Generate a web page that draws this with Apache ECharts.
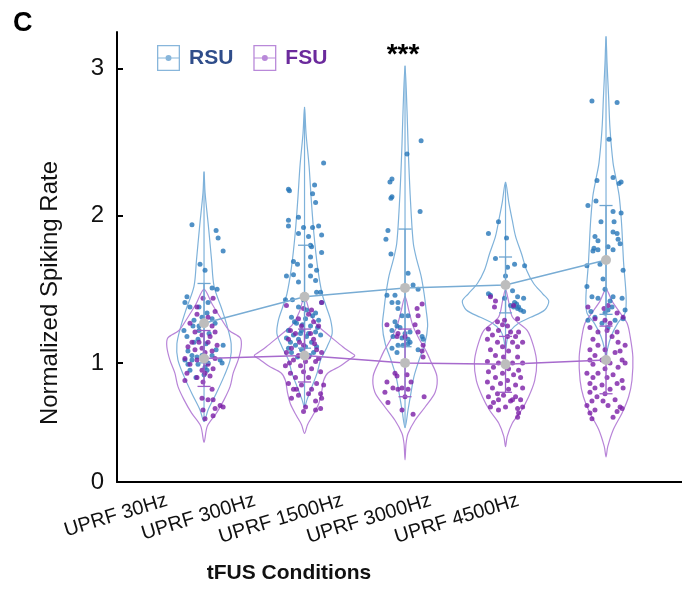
<!DOCTYPE html>
<html><head><meta charset="utf-8">
<script src="https://cdn.jsdelivr.net/npm/echarts@6/dist/echarts.min.js"></script>
<style>html,body{margin:0;padding:0;background:#fff}#main{width:682px;height:590px}</style>
</head><body><div id="main"></div>
<script>
const categories = ['UPRF 30Hz','UPRF 300Hz','UPRF 1500Hz','UPRF 3000Hz','UPRF 4500Hz'];
const yTickValues = [0.19, 1, 2, 3];
const yTickLabels = ['0', '1', '2', '3'];
const yMin = 0.19, yMax = 3.25;

const rsuMean = [1.27, 1.45, 1.51, 1.53, 1.70];
const rsuErr  = [0.27, 0.35, 0.40, 0.19, 0.37];
const fsuMean = [1.03, 1.05, 1.00, 0.99, 1.02];
const fsuErr  = [0.19, 0.18, 0.23, 0.19, 0.23];

// violin densities: [value, half-width in category units]
const rsuDensity1 = [[2.30,0],[2.16,0.01],[1.92,0.045],[1.70,0.075],[1.52,0.10],[1.36,0.18],[1.25,0.23],[1.13,0.27],[1.02,0.26],[0.91,0.20],[0.79,0.12],[0.68,0.04],[0.60,0]];
const rsuDensity2 = [[2.74,0],[2.56,0.015],[2.34,0.045],[2.11,0.067],[1.88,0.093],[1.65,0.13],[1.47,0.175],[1.38,0.217],[1.29,0.26],[1.20,0.275],[1.11,0.225],[1.02,0.16],[0.93,0.125],[0.84,0.075],[0.75,0.025],[0.70,0]];
const rsuDensity3 = [[3.02,0],[2.71,0.02],[2.49,0.03],[2.26,0.043],[2.03,0.06],[1.81,0.083],[1.70,0.117],[1.59,0.16],[1.47,0.19],[1.36,0.21],[1.25,0.225],[1.13,0.197],[1.02,0.14],[0.91,0.09],[0.80,0.06],[0.68,0.03],[0.56,0]];
const rsuDensity4 = [[2.23,0],[2.09,0.033],[1.97,0.067],[1.86,0.10],[1.74,0.16],[1.63,0.21],[1.54,0.28],[1.47,0.37],[1.42,0.43],[1.36,0.39],[1.31,0.25],[1.27,0.13],[1.22,0.05],[1.16,0.017],[1.09,0]];
const rsuDensity5 = [[3.22,0],[3.04,0.01],[2.82,0.025],[2.59,0.04],[2.36,0.07],[2.25,0.10],[2.14,0.13],[2.02,0.147],[1.91,0.158],[1.68,0.175],[1.45,0.20],[1.34,0.19],[1.27,0.117],[1.18,0.05],[1.09,0.013],[1.02,0]];

const fsuDensity1 = [[1.50,0],[1.40,0.08],[1.30,0.17],[1.22,0.25],[1.17,0.36],[1.11,0.37],[1.02,0.34],[0.93,0.29],[0.84,0.26],[0.75,0.20],[0.66,0.125],[0.57,0.033],[0.46,0]];
const fsuDensity2 = [[1.45,0],[1.35,0.05],[1.26,0.12],[1.20,0.22],[1.16,0.29],[1.11,0.38],[1.07,0.46],[1.05,0.50],[1.02,0.44],[0.98,0.36],[0.93,0.23],[0.88,0.19],[0.80,0.17],[0.72,0.14],[0.64,0.08],[0.58,0.03],[0.52,0]];
const fsuDensity3 = [[1.45,0],[1.35,0.04],[1.25,0.08],[1.15,0.15],[1.08,0.21],[1.02,0.25],[0.91,0.317],[0.80,0.30],[0.70,0.20],[0.61,0.10],[0.52,0.03],[0.45,0.01],[0.34,0]];
const fsuDensity4 = [[1.50,0],[1.42,0.03],[1.31,0.07],[1.22,0.217],[1.11,0.28],[1.00,0.31],[0.88,0.29],[0.77,0.23],[0.68,0.16],[0.59,0.067],[0.50,0.017],[0.43,0]];
const fsuDensity5 = [[1.50,0],[1.42,0.06],[1.34,0.14],[1.27,0.21],[1.18,0.24],[1.04,0.267],[0.88,0.258],[0.77,0.225],[0.66,0.16],[0.55,0.075],[0.43,0.017],[0.36,0]];

// individual units: [jitter, normalized rate]
const rsuPoints1 = [[-0.12,1.94],[0.12,1.90],[0.14,1.85],[0.19,1.76],[-0.04,1.67],[0.01,1.63],[0.08,1.51],[0.13,1.50],[-0.17,1.45],[-0.19,1.41],[-0.14,1.38],[-0.05,1.38],[0.04,1.41],[0.03,1.34],[-0.02,1.31],[-0.10,1.29],[0.08,1.30],[0.11,1.27],[-0.20,1.22],[-0.11,1.25],[-0.05,1.22],[0.05,1.20],[-0.17,1.18],[-0.06,1.16],[-0.10,1.14],[0.02,1.13],[-0.16,1.08],[0.19,1.12],[0.12,1.09],[-0.12,1.05],[-0.07,1.04],[0.16,1.02],[-0.19,1.02],[-0.12,1.02],[0.04,1.00],[-0.16,0.99],[-0.06,0.99],[0.01,0.97],[0.18,1.00],[0.08,1.05],[-0.02,1.05],[-0.14,0.95],[0.03,0.95],[-0.05,1.25],[0.00,0.92],[-0.08,0.90]];
const rsuPoints2 = [[0.19,2.36],[-0.16,2.18],[-0.15,2.17],[0.10,2.21],[0.08,2.15],[0.11,2.09],[-0.16,1.97],[-0.06,1.99],[-0.16,1.93],[-0.01,1.92],[0.08,1.92],[0.14,1.93],[-0.06,1.88],[0.04,1.86],[0.17,1.87],[0.06,1.80],[0.07,1.79],[0.06,1.72],[0.17,1.75],[-0.11,1.69],[-0.07,1.67],[0.06,1.66],[0.12,1.63],[-0.18,1.59],[-0.11,1.60],[0.06,1.59],[-0.06,1.55],[0.11,1.56],[0.12,1.48],[0.16,1.48],[-0.19,1.43],[-0.12,1.43],[0.17,1.41],[-0.01,1.43],[-0.06,1.38],[0.02,1.36],[0.11,1.34],[-0.13,1.31],[0.01,1.30],[0.14,1.29],[-0.08,1.27],[0.06,1.25],[-0.16,1.22],[-0.03,1.22],[0.11,1.21],[-0.11,1.19],[0.02,1.18],[0.16,1.19],[-0.18,1.17],[-0.06,1.16],[0.07,1.14],[-0.09,1.12],[0.01,1.11],[0.12,1.11],[-0.16,1.10],[-0.03,1.09],[-0.13,1.07],[0.09,1.07],[-0.04,1.20],[0.04,1.20],[-0.10,1.28],[0.08,1.32],[-0.02,1.26],[0.13,1.24],[-0.14,1.14],[0.05,1.05],[-0.07,1.04]];
const rsuPoints3 = [[0.16,2.51],[0.02,2.42],[-0.13,2.25],[-0.15,2.23],[-0.13,2.13],[-0.14,2.12],[0.15,2.03],[-0.17,1.90],[-0.19,1.84],[-0.14,1.74],[0.03,1.61],[0.08,1.53],[0.13,1.50],[-0.18,1.46],[-0.10,1.46],[-0.13,1.41],[-0.07,1.41],[-0.07,1.37],[-0.03,1.32],[0.03,1.32],[-0.10,1.28],[-0.08,1.25],[-0.05,1.24],[-0.13,1.22],[0.05,1.21],[0.00,1.20],[-0.03,1.17],[0.03,1.16],[0.05,1.14],[0.17,1.18],[0.18,1.16],[-0.12,1.18],[-0.07,1.12],[-0.02,1.12],[-0.13,1.10],[-0.08,1.07],[0.03,1.13],[0.13,1.09]];
const rsuPoints4 = [[-0.07,1.96],[-0.17,1.88],[0.01,1.85],[-0.10,1.71],[0.02,1.65],[0.09,1.67],[0.19,1.66],[0.00,1.59],[-0.17,1.47],[-0.15,1.46],[0.07,1.49],[-0.01,1.44],[0.12,1.45],[0.18,1.44],[0.05,1.39],[0.08,1.38],[0.12,1.37],[0.15,1.36],[0.18,1.35],[0.09,1.41],[0.11,1.40],[0.13,1.38]];
const rsuPoints5 = [[-0.14,2.78],[0.11,2.77],[0.03,2.52],[-0.09,2.24],[0.13,2.22],[0.15,2.23],[0.07,2.26],[-0.18,2.07],[-0.10,2.10],[0.07,2.03],[0.15,2.02],[-0.05,1.96],[0.08,1.96],[-0.11,1.86],[0.07,1.89],[0.11,1.88],[-0.08,1.83],[0.12,1.84],[-0.12,1.78],[-0.08,1.77],[-0.13,1.76],[0.02,1.79],[0.14,1.81],[0.07,1.77],[-0.19,1.66],[-0.06,1.67],[0.17,1.63],[-0.03,1.57],[-0.19,1.52],[-0.01,1.50],[0.07,1.45],[-0.14,1.45],[-0.08,1.44],[0.04,1.42],[0.16,1.44],[0.06,1.38],[0.02,1.36],[-0.15,1.35],[-0.01,1.34],[0.19,1.36],[-0.11,1.31],[-0.04,1.27],[-0.18,1.29],[0.09,1.29],[0.17,1.30],[0.02,1.24]];

const fsuPoints1 = [[-0.01,1.44],[0.09,1.44],[-0.07,1.38],[0.11,1.35],[-0.07,1.33],[0.04,1.31],[-0.14,1.27],[0.01,1.27],[0.08,1.25],[-0.09,1.21],[0.11,1.21],[-0.02,1.19],[0.06,1.18],[-0.12,1.14],[-0.05,1.14],[0.04,1.14],[0.13,1.12],[-0.16,1.11],[-0.02,1.10],[-0.09,1.09],[0.08,1.08],[0.01,1.07],[-0.19,1.03],[-0.07,1.02],[0.11,1.03],[-0.14,0.99],[0.04,0.99],[0.09,0.96],[-0.02,0.95],[-0.17,0.93],[0.01,0.93],[-0.07,0.90],[0.06,0.91],[-0.01,0.87],[-0.19,0.88],[0.08,0.82],[-0.02,0.76],[0.04,0.75],[0.09,0.75],[0.16,0.71],[0.19,0.70],[0.11,0.69],[-0.01,0.68],[0.09,0.64],[0.01,0.62]];
const fsuPoints2 = [[-0.18,1.39],[0.17,1.41],[-0.01,1.37],[0.07,1.36],[0.04,1.33],[-0.06,1.30],[0.09,1.28],[-0.14,1.22],[0.14,1.25],[-0.03,1.25],[-0.09,1.20],[0.06,1.20],[-0.16,1.16],[0.09,1.16],[-0.01,1.12],[-0.13,1.10],[0.12,1.09],[-0.18,1.07],[-0.06,1.05],[0.04,1.04],[0.17,1.07],[-0.11,1.02],[0.01,1.01],[0.11,1.01],[-0.19,0.98],[-0.04,0.98],[0.07,0.96],[-0.14,0.93],[-0.01,0.94],[0.16,0.94],[-0.09,0.90],[0.04,0.90],[-0.16,0.86],[0.12,0.86],[-0.03,0.85],[0.19,0.85],[-0.11,0.82],[0.07,0.82],[-0.06,0.78],[0.16,0.79],[-0.13,0.76],[0.17,0.76],[0.11,0.74],[0.01,0.70],[0.16,0.69],[0.11,0.68],[-0.01,0.67],[-0.08,0.82],[0.04,0.79],[0.10,1.13],[-0.05,1.14],[0.14,1.03],[-0.15,1.00]];
const fsuPoints3 = [[0.17,1.40],[0.12,1.37],[0.13,1.32],[-0.18,1.26],[0.10,1.26],[-0.07,1.20],[-0.08,1.18],[0.00,1.18],[0.13,1.21],[0.18,1.12],[0.17,1.08],[0.18,1.04],[-0.10,0.93],[-0.08,0.91],[0.02,0.92],[-0.18,0.87],[0.06,0.87],[-0.12,0.83],[-0.03,0.83],[-0.07,0.82],[0.03,0.82],[-0.20,0.80],[0.00,0.77],[0.19,0.77],[-0.17,0.73],[-0.03,0.68],[0.08,0.65]];
const fsuPoints4 = [[-0.15,1.45],[-0.10,1.42],[-0.11,1.38],[0.08,1.39],[-0.08,1.28],[-0.01,1.29],[-0.03,1.26],[0.02,1.25],[0.12,1.30],[-0.17,1.23],[-0.07,1.22],[0.05,1.21],[0.13,1.21],[-0.13,1.19],[0.02,1.18],[0.10,1.18],[-0.18,1.16],[-0.08,1.14],[0.07,1.14],[0.17,1.14],[-0.03,1.11],[0.12,1.11],[-0.15,1.09],[0.03,1.08],[-0.10,1.05],[0.12,1.04],[-0.02,1.04],[-0.18,1.01],[-0.07,1.00],[0.07,1.00],[0.17,1.00],[-0.12,0.97],[0.03,0.96],[0.13,0.95],[-0.17,0.94],[-0.03,0.93],[0.08,0.92],[-0.10,0.90],[0.02,0.88],[0.15,0.90],[-0.18,0.87],[-0.05,0.86],[0.10,0.85],[-0.13,0.83],[0.03,0.82],[0.17,0.83],[-0.08,0.79],[-0.02,0.78],[0.10,0.77],[-0.17,0.77],[-0.07,0.75],[-0.12,0.73],[0.05,0.74],[0.15,0.75],[-0.15,0.70],[0.00,0.70],[0.12,0.69],[-0.07,0.68],[0.17,0.70],[0.13,0.66],[0.12,0.63],[0.07,0.75]];
const fsuPoints5 = [[-0.18,1.38],[-0.02,1.37],[0.02,1.39],[0.11,1.34],[0.17,1.31],[-0.11,1.30],[-0.01,1.29],[0.04,1.27],[0.01,1.22],[-0.16,1.24],[-0.08,1.21],[0.11,1.21],[0.06,1.18],[-0.13,1.16],[0.12,1.14],[-0.08,1.12],[0.19,1.12],[-0.16,1.09],[-0.01,1.09],[0.09,1.07],[-0.11,1.05],[0.14,1.08],[-0.16,1.02],[-0.04,1.02],[0.16,1.02],[-0.13,0.99],[0.04,1.00],[-0.01,0.96],[0.12,0.97],[0.19,1.00],[-0.19,0.93],[-0.08,0.93],[0.07,0.92],[-0.13,0.90],[0.01,0.90],[0.16,0.88],[-0.16,0.86],[-0.04,0.85],[0.11,0.86],[-0.11,0.83],[0.04,0.82],[0.17,0.83],[-0.16,0.80],[-0.01,0.79],[-0.09,0.77],[0.09,0.75],[-0.14,0.74],[-0.03,0.74],[0.02,0.71],[-0.19,0.71],[0.14,0.70],[-0.11,0.68],[0.11,0.67],[-0.16,0.66],[0.07,0.63],[-0.14,0.62],[0.16,0.69]];

const FONT = '"Liberation Sans", Arial, Helvetica, sans-serif';
const C = {
  rsuDot: '#2676b8', rsuLine: '#7fb2da', rsuMeanLine: '#78acd4', rsuErr: '#6ea5d0',
  fsuDot: '#7a1ea6', fsuLine: '#b884d8', fsuMeanLine: '#a76acd', fsuErr: '#9d5cc6',
  mean: '#bdbdbd'
};
const rsuDensity = [rsuDensity1, rsuDensity2, rsuDensity3, rsuDensity4, rsuDensity5];
const fsuDensity = [fsuDensity1, fsuDensity2, fsuDensity3, fsuDensity4, fsuDensity5];
const rsuPoints = [rsuPoints1, rsuPoints2, rsuPoints3, rsuPoints4, rsuPoints5];
const fsuPoints = [fsuPoints1, fsuPoints2, fsuPoints3, fsuPoints4, fsuPoints5];

function violinSeries(name, dens, color, centerLine) {
  return {
    type: 'custom', name: name, xAxisIndex: 0, yAxisIndex: 0, silent: true, z: 2,
    encode: { x: 0, y: 1 },
    data: dens.map((d, i) => [i + 1, d[0][0]]),
    renderItem: function (params, api) {
      const i = params.dataIndex, d = dens[i], cx = i + 1;
      const pts = [];
      d.forEach(([v, w]) => pts.push(api.coord([cx + w, v])));
      for (let k = d.length - 1; k >= 0; k--) {
        const [v, w] = d[k];
        if (w > 0) pts.push(api.coord([cx - w, v]));
      }
      const children = [{ type: 'polygon', shape: { points: pts, smooth: 0.3 },
        style: { fill: 'none', stroke: color, lineWidth: 1.2 } }];
      if (centerLine) {
        const t = api.coord([cx, d[0][0]]), b = api.coord([cx, d[d.length - 1][0]]);
        children.push({ type: 'line', shape: { x1: t[0], y1: t[1], x2: b[0], y2: b[1] },
          style: { stroke: color, lineWidth: 1.2 } });
      }
      return { type: 'group', children: children };
    }
  };
}
function errSeries(name, means, errs, color) {
  return {
    type: 'custom', name: name, xAxisIndex: 0, yAxisIndex: 0, silent: true, z: 6,
    encode: { x: 0, y: [1, 2] },
    data: means.map((m, i) => [i + 1, m - errs[i], m + errs[i]]),
    renderItem: function (params, api) {
      const x = api.value(0);
      const lo = api.coord([x, api.value(1)]), hi = api.coord([x, api.value(2)]);
      const cw = api.size([0.065, 0])[0];
      const st = { stroke: color, lineWidth: 1.3 };
      return { type: 'group', children: [
        { type: 'line', shape: { x1: lo[0], y1: lo[1], x2: hi[0], y2: hi[1] }, style: st },
        { type: 'line', shape: { x1: lo[0] - cw, y1: lo[1], x2: lo[0] + cw, y2: lo[1] }, style: st },
        { type: 'line', shape: { x1: hi[0] - cw, y1: hi[1], x2: hi[0] + cw, y2: hi[1] }, style: st }
      ] };
    }
  };
}
function pointData(groups) {
  const out = [];
  groups.forEach((pts, i) => pts.forEach(([j, v]) => out.push([i + 1 + j, v])));
  return out;
}
const legendIcon = 'path://M0,0H23V26H0Z M1.3,1.3V24.7H21.7V1.3Z M1.3,12.4H21.7V13.6H1.3Z M8.5,13A3,3 0 1,1 14.5,13A3,3 0 1,1 8.5,13Z';

const chart = echarts.init(document.getElementById('main'));
chart.setOption({
  animation: false,
  backgroundColor: '#fff',
  textStyle: { fontFamily: FONT },
  grid: [
    { left: 117, right: 0, top: 32, bottom: 108 },
    { left: 123, right: 119.5, top: 32, bottom: 108 }
  ],
  xAxis: [
    { type: 'value', gridIndex: 0, min: 0.134, max: 5.756,
      axisLine: { onZero: false, lineStyle: { color: '#000', width: 2 } },
      axisTick: { show: false }, axisLabel: { show: false }, splitLine: { show: false } },
    { type: 'category', gridIndex: 1, data: categories,
      axisLine: { show: false }, axisTick: { show: false }, splitLine: { show: false },
      axisLabel: { interval: 0, rotate: 17, margin: 18, fontSize: 20, color: '#111', fontFamily: FONT } }
  ],
  yAxis: [
    { type: 'value', gridIndex: 0, min: yMin, max: yMax,
      axisLine: { show: true, lineStyle: { color: '#000', width: 2 } },
      axisTick: { show: true, inside: true, length: 6, customValues: [1, 2, 3], lineStyle: { color: '#000', width: 2 } },
      axisLabel: { customValues: yTickValues, margin: 13, fontSize: 24, color: '#111', fontFamily: FONT,
        formatter: function (v) { const k = yTickValues.findIndex(t => Math.abs(t - v) < 1e-6); return k >= 0 ? yTickLabels[k] : ''; } },
      splitLine: { show: false } },
    { type: 'value', gridIndex: 1, show: false, min: yMin, max: yMax }
  ],
  legend: {
    left: 152, top: 40, itemWidth: 23, itemHeight: 26, itemGap: 20, selectedMode: false,
    textStyle: { fontSize: 21, fontWeight: 'bold', fontFamily: FONT, padding: [0, 0, 0, 4] },
    data: [
      { name: 'RSU', icon: legendIcon, itemStyle: { color: '#6aa4d2' }, textStyle: { color: '#2f4d8a' } },
      { name: 'FSU', icon: legendIcon, itemStyle: { color: '#a86bd0' }, textStyle: { color: '#6b2a9c' } }
    ]
  },
  graphic: [
    { type: 'text', x: 13, y: 24, style: { text: 'C', font: 'bold 27px ' + FONT, fill: '#000', align: 'left', verticalAlign: 'middle' } },
    { type: 'text', x: 403, y: 55, style: { text: '***', font: 'bold 28px ' + FONT, fill: '#000', align: 'center', verticalAlign: 'middle' } },
    { type: 'text', x: 289, y: 573, style: { text: 'tFUS Conditions', font: 'bold 21px ' + FONT, fill: '#111', align: 'center', verticalAlign: 'middle' } },
    { type: 'text', x: 50, y: 293, rotation: Math.PI / 2, style: { text: 'Normalized Spiking Rate', font: '24px ' + FONT, fill: '#111', align: 'center', verticalAlign: 'middle' } }
  ],
  series: [
    violinSeries('RSU violin', rsuDensity, C.rsuLine, true),
    violinSeries('FSU violin', fsuDensity, C.fsuLine, false),
    { type: 'scatter', name: 'RSU', xAxisIndex: 0, yAxisIndex: 0, z: 3, silent: true,
      symbol: 'circle', symbolSize: 5, itemStyle: { color: C.rsuDot }, data: pointData(rsuPoints) },
    { type: 'scatter', name: 'FSU', xAxisIndex: 0, yAxisIndex: 0, z: 4, silent: true,
      symbol: 'circle', symbolSize: 5, itemStyle: { color: C.fsuDot }, data: pointData(fsuPoints) },
    errSeries('RSU err', rsuMean, rsuErr, C.rsuErr),
    errSeries('FSU err', fsuMean, fsuErr, C.fsuErr),
    { type: 'line', name: 'RSU mean', xAxisIndex: 0, yAxisIndex: 0, z: 8, silent: true,
      data: rsuMean.map((m, i) => [i + 1, m]), symbol: 'circle', symbolSize: 10, showAllSymbol: true,
      itemStyle: { color: C.mean, borderWidth: 0 }, lineStyle: { color: C.rsuMeanLine, width: 1.5 } },
    { type: 'line', name: 'FSU mean', xAxisIndex: 0, yAxisIndex: 0, z: 8, silent: true,
      data: fsuMean.map((m, i) => [i + 1, m]), symbol: 'circle', symbolSize: 10, showAllSymbol: true,
      itemStyle: { color: C.mean, borderWidth: 0 }, lineStyle: { color: C.fsuMeanLine, width: 1.5 } }
  ]
});
</script></body></html>
